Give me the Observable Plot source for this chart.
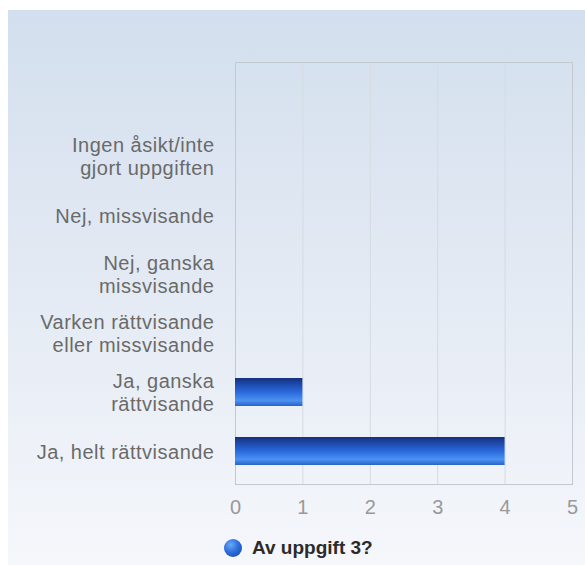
<!DOCTYPE html>
<html>
<head>
<meta charset="utf-8">
<script src="https://cdn.jsdelivr.net/npm/d3@7"></script>
<script src="https://cdn.jsdelivr.net/npm/@observablehq/plot@0.6"></script>
<style>
  html, body { margin: 0; padding: 0; background: #ffffff; }
  #wrap { position: relative; width: 585px; height: 565px; overflow: hidden; font-family: "Liberation Sans", Arial, sans-serif; }
  #bg { position: absolute; left: 8px; top: 10px; right: 0; bottom: 0;
        background: linear-gradient(to bottom, #d3dfee 0%, #e2e9f3 45%, #f5f7fb 100%); }
  #chart { position: absolute; left: 0; top: 0; }
  #chart g[aria-label="y-axis tick label"] text { letter-spacing: 0.5px; }
  #legend { position: absolute; left: 224px; top: 537px; height: 22px; line-height: 22px;
            display: flex; align-items: center; font-weight: bold; font-size: 19px; color: #2b2b2b; }
  #legend .dot { width: 18px; height: 18px; border-radius: 50%; margin-right: 10px;
            background: radial-gradient(circle at 38% 32%, #6aaaf8 0%, #2c6fdc 45%, #1a3f98 100%); }
</style>
</head>
<body>
<div id="wrap">
  <div id="bg"></div>
  <div id="chart"></div>
  <div id="legend"><span class="dot"></span><span id="legendText"></span></div>
</div>
<script>
const categories = [
  "Ingen åsikt/inte\ngjort uppgiften",
  "Nej, missvisande",
  "Nej, ganska\nmissvisande",
  "Varken rättvisande\neller missvisande",
  "Ja, ganska\nrättvisande",
  "Ja, helt rättvisande"
];
const values = [0, 0, 0, 0, 1, 4];
const xTicks = [0, 1, 2, 3, 4, 5];
const seriesName = "Av uppgift 3?";

const data = categories.map((c, i) => ({category: c, value: values[i]}));

const defsMark = () => {
  const g = document.createElementNS("http://www.w3.org/2000/svg", "g");
  g.innerHTML = `<defs><linearGradient id="barGrad" x1="0" y1="0" x2="0" y2="1">
      <stop offset="0" stop-color="#15317a"/>
      <stop offset="0.2" stop-color="#1d47a8"/>
      <stop offset="0.5" stop-color="#2a68dc"/>
      <stop offset="0.8" stop-color="#4b92f2"/>
      <stop offset="1" stop-color="#2a62c8"/>
    </linearGradient></defs>`;
  return g;
};

const chart = Plot.plot({
  width: 585,
  height: 525,
  marginLeft: 235,
  marginRight: 13,
  marginTop: 62,
  marginBottom: 41,
  style: { background: "transparent", fontFamily: "'Liberation Sans', Arial, sans-serif" },
  x: { domain: [0, 5] },
  y: { domain: categories, range: [123, 483], paddingInner: 0.533, paddingOuter: 0.267 },
  marks: [
    defsMark,
    Plot.gridX(xTicks.slice(1, -1), { stroke: "#d6dbe2", strokeOpacity: 1 }),
    Plot.frame({ stroke: "#c3c9d1" }),
    Plot.barX(data, { x: "value", y: "category", fill: "url(#barGrad)" }),
    Plot.axisX(xTicks, { tickSize: 0, tickPadding: 15, fontSize: 20, fill: "#999999", label: null }),
    Plot.axisY({ tickSize: 0, tickPadding: 21, fontSize: 20, fill: "#6a6a6a", lineHeight: 1.15, label: null })
  ]
});
document.getElementById("chart").appendChild(chart);
document.getElementById("legendText").textContent = seriesName;
</script>
</body>
</html>
